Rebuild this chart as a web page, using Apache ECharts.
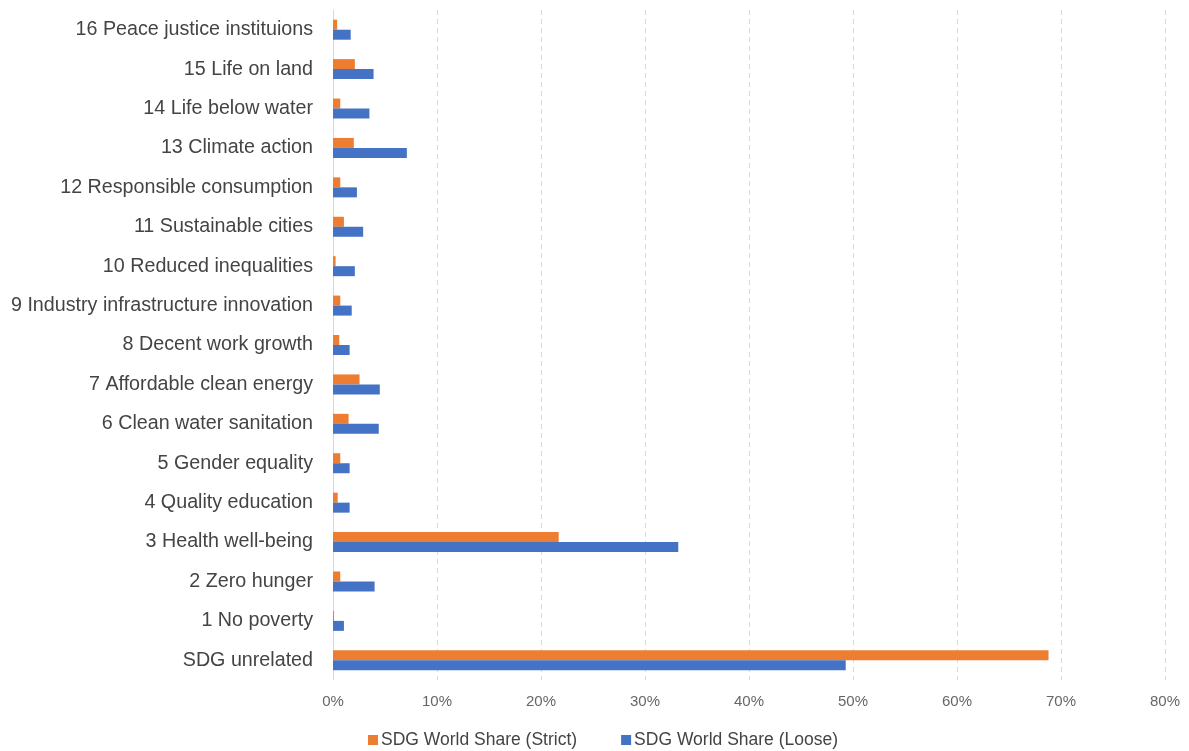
<!DOCTYPE html>
<html>
<head>
<meta charset="utf-8">
<script src="https://cdn.jsdelivr.net/npm/echarts@6/dist/echarts.min.js"></script>
<style>
  html, body { margin: 0; padding: 0; background: #fff; }
  #chart { width: 1189px; height: 751px; }
</style>
</head>
<body>
<div id="chart"></div>
<script>
// SDG categories, listed bottom to top along the category axis
const categories = [
  'SDG unrelated',
  '1 No poverty',
  '2 Zero hunger',
  '3 Health well-being',
  '4 Quality education',
  '5 Gender equality',
  '6 Clean water sanitation',
  '7 Affordable clean energy',
  '8 Decent work growth',
  '9 Industry infrastructure innovation',
  '10 Reduced inequalities',
  '11 Sustainable cities',
  '12 Responsible consumption',
  '13 Climate action',
  '14 Life below water',
  '15 Life on land',
  '16 Peace justice instituions'
];

// World share per SDG, in percent
const strictShare = [68.8, 0.1, 0.7, 21.7, 0.45, 0.7, 1.5, 2.55, 0.6, 0.7, 0.25, 1.05, 0.7, 2.0, 0.7, 2.1, 0.4];
const looseShare  = [49.3, 1.05, 4.0, 33.2, 1.6, 1.6, 4.4, 4.5, 1.6, 1.8, 2.1, 2.9, 2.3, 7.1, 3.5, 3.9, 1.7];

const xTicks = { min: 0, max: 80, interval: 10 };

const chart = echarts.init(document.getElementById('chart'), null, { renderer: 'canvas' });

chart.setOption({
  animation: false,
  backgroundColor: '#ffffff',
  textStyle: { fontFamily: 'Liberation Sans, Arial, sans-serif' },
  grid: { left: 333, right: 24, top: 10, bottom: 71, containLabel: false },
  legend: {
    data: ['SDG World Share (Strict)', 'SDG World Share (Loose)'],
    left: 363,
    top: 726,
    itemWidth: 10,
    itemHeight: 10,
    itemGap: 44,
    icon: 'rect',
    textStyle: { fontSize: 17.5, color: '#444444', padding: [0, 0, 0, -2] }
  },
  xAxis: {
    type: 'value',
    min: xTicks.min,
    max: xTicks.max,
    interval: xTicks.interval,
    axisLine: { show: false },
    axisTick: { show: false },
    axisLabel: {
      formatter: '{value}%',
      fontSize: 15,
      color: '#666666',
      margin: 14
    },
    splitLine: {
      show: true,
      lineStyle: { color: '#d9d9d9', type: [5, 4], width: 1 }
    }
  },
  yAxis: {
    type: 'category',
    data: categories,
    axisLine: { show: true, lineStyle: { color: '#d9d9d9', width: 1 } },
    axisTick: { show: false },
    axisLabel: { fontSize: 19.7, color: '#444444', margin: 20 }
  },
  series: [
    {
      name: 'SDG World Share (Strict)',
      type: 'bar',
      data: strictShare,
      barWidth: 10,
      barGap: '0%',
      itemStyle: { color: '#ED7D31' }
    },
    {
      name: 'SDG World Share (Loose)',
      type: 'bar',
      data: looseShare,
      barWidth: 10,
      barGap: '0%',
      itemStyle: { color: '#4472C4' }
    }
  ]
});
</script>
</body>
</html>
